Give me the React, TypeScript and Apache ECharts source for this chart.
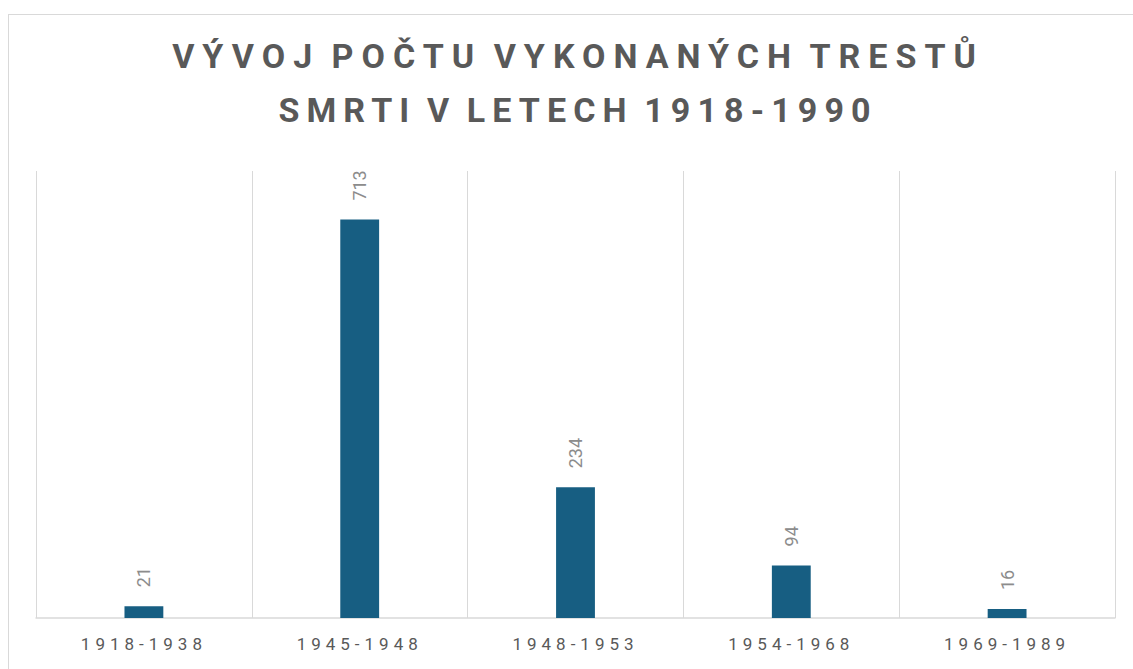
import React, { useEffect, useRef } from "react";
import * as echarts from "echarts";

const TITLE_LINES = ["VÝVOJ POČTU VYKONANÝCH TRESTŮ", "SMRTI V LETECH 1918-1990"];
const TITLE_SPACING = ["8", "7.1"];
const CATEGORIES = ["1918-1938", "1945-1948", "1948-1953", "1954-1968", "1969-1989"];
const VALUES = [21, 713, 234, 94, 16];

function applySpacing(dom: HTMLElement) {
  dom.querySelectorAll("text").forEach((t) => {
    const s = (t.textContent || "").trim();
    const ti = TITLE_LINES.indexOf(s);
    if (ti >= 0) {
      t.setAttribute("letter-spacing", TITLE_SPACING[ti]);
      t.setAttribute("word-spacing", "-5");
    } else if (CATEGORIES.includes(s)) t.setAttribute("letter-spacing", "5");
  });
}

export default function App() {
  const ref = useRef<HTMLDivElement>(null);
  useEffect(() => {
    const el = ref.current!;
    const chart = echarts.init(el, undefined, { renderer: "svg" });
    chart.setOption({
      animation: false,
      textStyle: { fontFamily: "Roboto" },
      graphic: [
        {
          type: "text",
          x: 569,
          y: 14,
          style: {
            text: TITLE_LINES.join("\n"),
            align: "center",
            verticalAlign: "top",
            fontFamily: "Roboto",
            fontSize: 34,
            lineHeight: 54,
            fontWeight: "bold",
            fill: "#595959",
          },
        },
      ],
      grid: { left: 27, right: 18, top: 156, bottom: 51 },
      xAxis: {
        type: "category",
        data: CATEGORIES,
        axisLine: { lineStyle: { color: "#d9d9d9", width: 1.5 } },
        axisTick: { show: false },
        splitLine: { show: true, lineStyle: { color: "#d9d9d9", width: 1 } },
        axisLabel: { color: "#595959", fontSize: 17, margin: 17, fontFamily: "Roboto" },
      },
      yAxis: { type: "value", min: 0, max: 800, show: false },
      series: [
        {
          type: "bar",
          data: VALUES,
          barWidth: "18%",
          itemStyle: { color: "#175e82" },
          label: {
            show: true,
            position: "top",
            rotate: 90,
            distance: 19,
            align: "left",
            verticalAlign: "middle",
            color: "#8c8c8c",
            fontSize: 18,
            fontFamily: "Roboto",
          },
        },
      ],
    });
    applySpacing(el);
    chart.on("finished", () => applySpacing(el));
    return () => chart.dispose();
  }, []);
  return (
    <div
      ref={ref}
      style={{
        position: "absolute",
        left: 8,
        top: 14,
        width: 1125,
        height: 655,
        boxSizing: "border-box",
        borderLeft: "1px solid #d9d9d9",
        borderTop: "1px solid #d9d9d9",
        background: "#fff",
      }}
    />
  );
}
